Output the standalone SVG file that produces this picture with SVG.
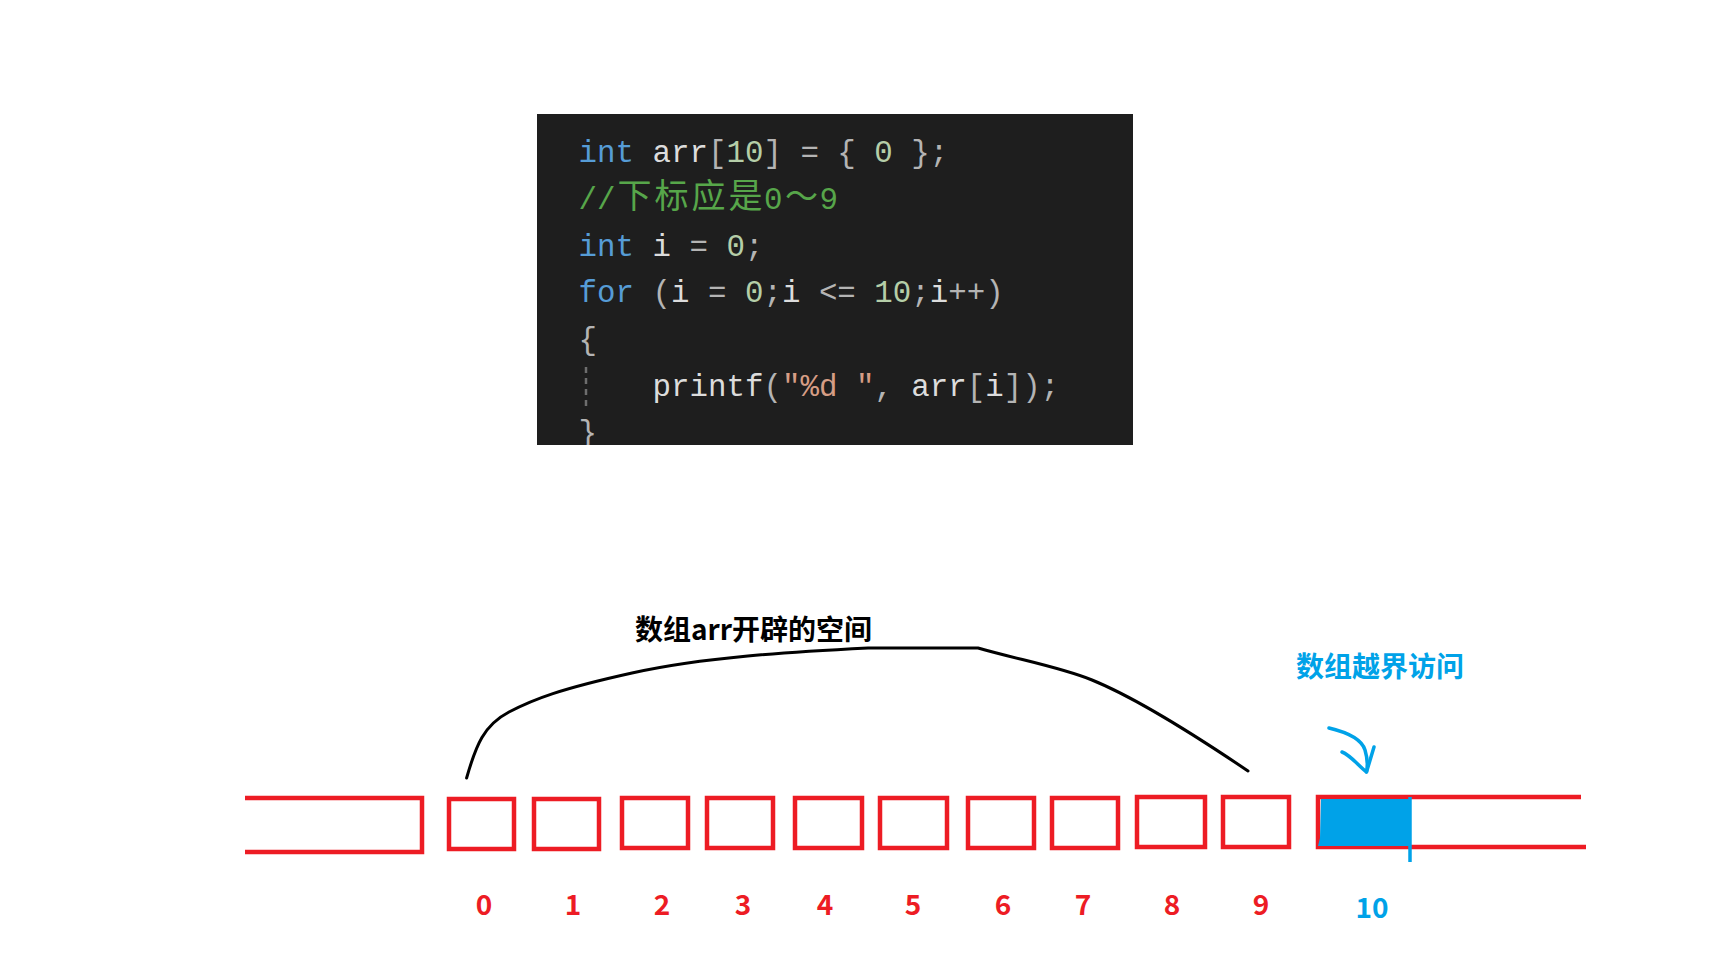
<svg xmlns="http://www.w3.org/2000/svg" width="1726" height="977" viewBox="0 0 1726 977">
<style>
.code{font-family:"Liberation Mono","DejaVu Sans Mono",monospace;font-size:30.8px;fill:#dcdcdc}
.cjk{font-family:"Noto Sans CJK SC",sans-serif}
.kw{fill:#569cd6}.num{fill:#b5cea8}.pun{fill:#b4b4b4}.str{fill:#d69d85}.cm{fill:#57a64a}
.cell{fill:none;stroke:#ed1c24;stroke-width:4.5}
.idx{font-family:"Noto Sans CJK SC","Noto Sans",sans-serif;font-weight:700;font-size:28px;fill:#ed1c24;text-anchor:middle}
.blue{fill:#00a2e8}
</style>
<defs>
<clipPath id="codeclip"><rect x="537" y="114" width="596" height="331"/></clipPath>
</defs>
<rect width="1726" height="977" fill="#ffffff"/>

<g id="code-block">
<rect x="537" y="114" width="596" height="331" fill="#1e1e1e"/>
<g clip-path="url(#codeclip)">
<text class="code" x="578.6" y="162" xml:space="preserve"><tspan class="kw">int</tspan> arr<tspan class="pun">[</tspan><tspan class="num">10</tspan><tspan class="pun">] = { </tspan><tspan class="num">0</tspan><tspan class="pun"> };</tspan></text>
<text class="code cm" x="578.6" y="209">//</text>
<text class="cjk cm" font-size="34" y="208" x="617.5 654.5 691.5 728.5">下标应是</text>
<text class="code cm" x="764" y="209">0</text>
<text class="cjk cm" font-size="33" y="208" x="785">～</text>
<text class="code cm" x="819.5" y="209">9</text>
<text class="code" x="578.6" y="256" xml:space="preserve"><tspan class="kw">int</tspan> i <tspan class="pun">=</tspan> <tspan class="num">0</tspan><tspan class="pun">;</tspan></text>
<text class="code" x="578.6" y="302" xml:space="preserve"><tspan class="kw">for</tspan> <tspan class="pun">(</tspan>i <tspan class="pun">=</tspan> <tspan class="num">0</tspan><tspan class="pun">;</tspan>i <tspan class="pun">&lt;=</tspan> <tspan class="num">10</tspan><tspan class="pun">;</tspan>i<tspan class="pun">++)</tspan></text>
<text class="code pun" x="578.6" y="349">{</text>
<text class="code" x="652.6" y="396" xml:space="preserve">printf<tspan class="pun">(</tspan><tspan class="str">"%d "</tspan><tspan class="pun">, </tspan>arr<tspan class="pun">[</tspan>i<tspan class="pun">]);</tspan></text>
<text class="code pun" x="578.6" y="442">}</text>
<line x1="586" y1="367" x2="586" y2="408" stroke="#6e6e6e" stroke-width="2.5" stroke-dasharray="6,5"/>
</g>
</g>

<g id="array-cells">
<path id="cell-before" class="cell" d="M245,798 H422 V852 H245"/>
<rect id="cell-0" class="cell" x="449" y="799" width="65" height="50"/>
<rect id="cell-1" class="cell" x="534" y="799" width="65" height="50"/>
<rect id="cell-2" class="cell" x="622" y="798" width="66" height="50"/>
<rect id="cell-3" class="cell" x="707" y="798" width="66" height="50"/>
<rect id="cell-4" class="cell" x="795" y="798" width="67" height="50"/>
<rect id="cell-5" class="cell" x="880" y="798" width="67" height="50"/>
<rect id="cell-6" class="cell" x="968" y="798" width="66" height="50"/>
<rect id="cell-7" class="cell" x="1052" y="798" width="66" height="50"/>
<rect id="cell-8" class="cell" x="1137" y="797" width="68" height="50"/>
<rect id="cell-9" class="cell" x="1223" y="797" width="66" height="50"/>
<g id="cell-10">
<path class="cell" d="M1581,797 H1318 V847 H1586"/>
<path class="blue" d="M1321,799 H1410 V846 H1318 L1320,838 Z"/>
<line x1="1410" y1="797" x2="1410" y2="862" stroke="#00a2e8" stroke-width="3.5"/>
</g>
</g>

<g id="index-labels">
<text class="idx" x="484" y="915">0</text>
<text class="idx" x="573" y="915">1</text>
<text class="idx" x="662" y="915">2</text>
<text class="idx" x="743" y="915">3</text>
<text class="idx" x="825" y="915">4</text>
<text class="idx" x="913" y="915">5</text>
<text class="idx" x="1003" y="915">6</text>
<text class="idx" x="1083" y="915">7</text>
<text class="idx" x="1172" y="915">8</text>
<text class="idx" x="1261" y="915">9</text>
<text class="idx" x="1372" y="918" style="fill:#00a2e8">10</text>
</g>

<g id="label-space">
<text class="cjk" x="635" y="640" font-size="28" font-weight="700" fill="#000000">数组arr开辟的空间</text>
</g>
<g id="label-outofbounds">
<text class="cjk" x="1296" y="677" font-size="28" font-weight="700" fill="#00a2e8">数组越界访问</text>
</g>

<g id="connectors" fill="none" stroke-linecap="round" stroke-linejoin="round">
<path d="M466.6,778 C476,745 484,725 509,712 S560,689 632,673 S790,652 868,648 L978,648 C1020,660 1060,667 1092,680 S1180,725 1248,771" stroke="#000000" stroke-width="3"/>
<path d="M1329,728 C1350,733 1362,740 1365,750 S1368,765 1366.5,772" stroke="#00a2e8" stroke-width="3.5"/>
<path d="M1342,752 C1350,755 1358,765 1366.5,772 L1374,747" stroke="#00a2e8" stroke-width="3.5"/>
</g>
</svg>
